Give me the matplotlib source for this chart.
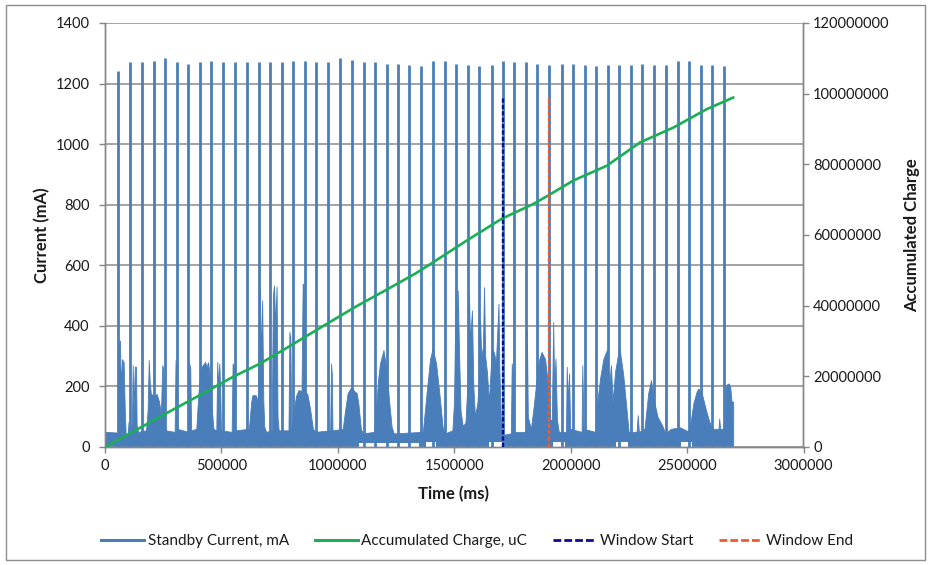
import matplotlib
matplotlib.use("Agg")
import matplotlib.pyplot as plt
from matplotlib.lines import Line2D
from matplotlib.patches import Rectangle
from matplotlib.ticker import FuncFormatter, MultipleLocator

plt.rcParams['font.family'] = ['Lato', 'DejaVu Sans']

# --- Standby current: periodic wake-up pulses (time in ms, peak in mA) ---
spike_t = [54000, 107000, 160000, 210000, 259000, 309000, 358000, 407000, 457000,
           505000, 557000, 609000, 661000, 710000, 759000, 807000, 858000, 906000,
           956000, 1009000, 1062000, 1112000, 1161000, 1210000, 1257000, 1307000,
           1357000, 1409000, 1459000, 1506000, 1558000, 1608000, 1661000, 1708000,
           1757000, 1808000, 1857000, 1908000, 1961000, 2011000, 2062000, 2109000,
           2159000, 2208000, 2258000, 2306000, 2359000, 2408000, 2462000, 2510000,
           2561000, 2608000, 2659000]
spike_ma = [1240, 1270, 1270, 1275, 1284, 1270, 1264, 1270, 1275, 1271, 1271, 1270,
            1270, 1271, 1271, 1273, 1273, 1270,
            1270, 1284, 1278, 1270, 1270, 1264, 1264, 1261, 1258, 1273, 1273, 1264,
            1261, 1258, 1261, 1273, 1270, 1270,
            1266, 1261, 1266, 1264, 1261, 1258, 1261, 1261, 1261, 1266, 1261, 1261,
            1273, 1273, 1261, 1261, 1258]

# --- Standby current between pulses: upper envelope of the noisy trace ---
cur_t = [0, 48000, 55000, 58000, 64000, 68000, 73000, 80000, 85000, 89000, 98000,
         101000, 103000, 112000, 116000, 119000, 123000, 128000, 133000, 136000,
         142000, 176000, 183000, 188000, 192000, 197000, 211000, 222000, 232000,
         240000, 246000, 250000, 254000, 262000, 299000, 303000, 308000, 311000,
         358000, 362000, 366000, 370000, 392000, 401000, 408000, 415000, 430000,
         436000, 443000, 451000, 458000, 466000, 478000, 482000, 486000, 491000,
         495000, 498000, 544000, 548000, 553000, 557000, 618000, 628000, 633000,
         648000, 657000, 662000, 665000, 670000, 675000, 680000, 684000, 692000,
         716000, 721000, 726000, 731000, 737000, 741000, 746000, 788000, 792000,
         796000, 800000, 806000, 812000, 821000, 831000, 844000, 849000, 853000,
         857000, 869000, 880000, 893000, 903000, 967000, 971000, 974000, 977000,
         1021000, 1031000, 1042000, 1059000, 1070000, 1081000, 1088000, 1099000,
         1109000, 1155000, 1163000, 1174000, 1181000, 1196000, 1209000, 1221000,
         1231000, 1240000, 1365000, 1381000, 1396000, 1407000, 1422000, 1436000,
         1450000, 1460000, 1492000, 1499000, 1506000, 1510000, 1515000, 1521000,
         1527000, 1536000, 1548000, 1556000, 1563000, 1568000, 1576000, 1582000,
         1589000, 1600000, 1607000, 1611000, 1616000, 1623000, 1628000, 1633000,
         1640000, 1649000, 1656000, 1661000, 1671000, 1679000, 1690000, 1694000,
         1701000, 1708000, 1743000, 1747000, 1751000, 1755000, 1808000, 1812000,
         1816000, 1829000, 1839000, 1854000, 1865000, 1875000, 1890000, 1904000,
         1912000, 1919000, 1925000, 1929000, 1935000, 1941000, 1949000, 1980000,
         1983000, 1988000, 1993000, 1998000, 2047000, 2050000, 2055000, 2106000,
         2112000, 2126000, 2140000, 2155000, 2165000, 2173000, 2180000, 2191000,
         2209000, 2226000, 2241000, 2249000, 2283000, 2288000, 2293000, 2317000,
         2333000, 2345000, 2360000, 2373000, 2394000, 2406000, 2430000, 2470000,
         2509000, 2527000, 2541000, 2548000, 2563000, 2577000, 2593000, 2607000,
         2635000, 2638000, 2642000, 2661000, 2666000, 2678000, 2685000, 2691000,
         2698000]
cur_ma = [50, 48, 45, 330, 352, 200, 290, 280, 120, 40, 45,
          83, 45, 45, 100, 270, 120, 265, 265, 70,
          50, 55, 120, 287, 215, 175, 170, 175, 150,
          110, 270, 260, 80, 55, 50, 287, 250, 60,
          50, 276, 260, 55, 60, 177, 230, 265, 281,
          265, 280, 230, 130, 60, 55, 281, 200, 276,
          180, 55, 50, 276, 265, 55, 60, 150, 171,
          171, 150, 500, 523, 300, 484, 150, 67, 50,
          55, 500, 534, 400, 530, 100, 55, 55, 380,
          360, 60, 90, 130, 170, 188, 185, 539, 539,
          185, 175, 130, 60, 50, 55, 276, 240, 55,
          60, 120, 178, 199, 185, 178, 145, 59,
          45, 50, 120, 230, 276, 320, 254, 145,
          67, 45, 50, 177, 290, 325, 276, 177,
          67, 45, 55, 150, 528, 300, 517, 300,
          120, 70, 80, 200, 506, 350, 451, 200,
          100, 150, 250, 418, 300, 330, 528, 300,
          250, 150, 250, 330, 310, 280, 473, 250,
          60, 40, 45, 276, 240, 50, 50, 385,
          100, 60, 120, 225, 290, 314, 291, 195,
          90, 90, 413, 200, 292, 90, 50, 50,
          265, 150, 243, 60, 50, 270, 60, 50,
          134, 225, 290, 320, 200, 270, 150, 250,
          330, 237, 115, 50, 50, 105, 50, 60,
          177, 221, 145, 100, 70, 45, 60, 65,
          50, 145, 183, 193, 178, 134, 90, 60,
          60, 94, 60, 60, 204, 210, 200, 150,
          150]

# Stretches where the trace never drops to the floor (start, end in ms; floor in mA)
notch_start = [1090000, 1377000, 1651000, 1922000, 2194000, 2474000]
notch_end = [1349000, 1422000, 1703000, 1974000, 2246000, 2520000]
notch_floor = [14, 16, 16, 16, 16, 16]

# --- Accumulated charge (uC) ---
charge_t = [0, 122000, 265000, 408000, 551000, 666000, 787000, 931000, 1074000,
            1217000, 1331000, 1410000, 1553000, 1704000, 1840000, 1904000,
            2011000, 2155000, 2298000, 2441000, 2584000, 2698000]
charge_uc = [0, 4.4e6, 9.6e6, 14.7e6, 19.9e6, 23.6e6, 28.3e6, 34.0e6, 39.6e6,
             44.8e6, 49.0e6, 52.3e6, 58.4e6, 64.6e6, 68.8e6, 71.2e6,
             75.4e6, 79.6e6, 86.2e6, 90.4e6, 95.6e6, 98.9e6]

# --- Measurement window (ms) ---
window_start_ms = 1708000
window_end_ms = 1908000

legend_labels = ['Standby Current, mA', 'Accumulated Charge, uC',
                 'Window Start', 'Window End']

BLUE = '#4A7EBB'
GREEN = '#1BAE56'
NAVY = '#0A0A9A'
ORANGE = '#F2592A'
AXIS_GRAY = '#868686'
TEXT = '#1A1A1A'

W, H = 931, 565
fig = plt.figure(figsize=(W / 100, H / 100), dpi=100)
ax = fig.add_axes([105 / W, 1 - 447 / H, 698.5 / W, 424 / H])
ax2 = ax.twinx()

# current trace
ax.fill_between(cur_t, 4, cur_ma, color=BLUE, lw=0.6, edgecolor=BLUE, zorder=2)
for s, e, f in zip(notch_start, notch_end, notch_floor):
    ax.fill_between([s, e], 0, f, color='white', lw=0, zorder=2.5)
ax.vlines(spike_t, 0, spike_ma, colors=BLUE, lw=2.0, zorder=3)

ax.set_xlim(0, 3000000)
ax.set_ylim(0, 1400)
ax.xaxis.set_major_locator(MultipleLocator(500000))
ax.yaxis.set_major_locator(MultipleLocator(200))
ax.xaxis.set_major_formatter(FuncFormatter(lambda v, p: f'{int(v)}'))
ax.yaxis.grid(True, color='#8A8A8A', lw=1.1)
ax.set_axisbelow(True)

# accumulated charge and window markers on the secondary axis
ax2.plot(charge_t, charge_uc, color=GREEN, lw=1.9, zorder=4)
ax2.vlines([window_start_ms], 0, charge_uc[-1], colors=NAVY, lw=1.7,
           linestyles=(0, (1.8, 0.9)), zorder=5)
ax2.vlines([window_end_ms], 0, charge_uc[-1], colors=ORANGE, lw=1.7,
           linestyles=(0, (1.8, 0.9)), zorder=5)
ax2.set_ylim(0, 120000000)
ax2.yaxis.set_major_locator(MultipleLocator(20000000))
ax2.yaxis.set_major_formatter(FuncFormatter(lambda v, p: f'{int(v)}'))

for a in (ax, ax2):
    a.spines['top'].set_visible(False)
    for side in ('left', 'right', 'bottom'):
        a.spines[side].set_color(AXIS_GRAY)
        a.spines[side].set_linewidth(1.0)
    a.tick_params(direction='out', length=4, width=1, color=AXIS_GRAY,
                  labelsize=10.5, labelcolor=TEXT)
ax.tick_params(axis='y', pad=7)
ax.tick_params(axis='x', pad=5)
ax2.tick_params(axis='y', pad=3)

fig.text(42 / W, 1 - 235 / H, 'Current (mA)', rotation=90, ha='center', va='center',
         fontsize=12, fontweight='bold', color=TEXT)
fig.text(454 / W, 1 - 494 / H, 'Time (ms)', ha='center', va='center',
         fontsize=12, fontweight='bold', color=TEXT)
fig.text(912 / W, 1 - 235 / H, 'Accumulated Charge', rotation=90, ha='center',
         va='center', fontsize=12, fontweight='bold', color=TEXT)

handles = [Line2D([], [], color=BLUE, lw=2.2),
           Line2D([], [], color=GREEN, lw=2.2),
           Line2D([], [], color=NAVY, lw=2.0, ls=(0, (2.8, 1.1))),
           Line2D([], [], color=ORANGE, lw=2.0, ls=(0, (2.8, 1.1)))]
fig.legend(handles, legend_labels, loc='center', bbox_to_anchor=(477 / W, 1 - 541 / H),
           ncol=4, frameon=False, fontsize=11, handlelength=2.8,
           handletextpad=0.25, columnspacing=1.7, labelcolor=TEXT)

fig.patches.append(Rectangle((6 / W, 5 / H), 919 / W, 555 / H, transform=fig.transFigure,
                             fill=False, edgecolor='#8E8E8E', lw=1.0))

fig.savefig('out.png', dpi=100, facecolor='white')
